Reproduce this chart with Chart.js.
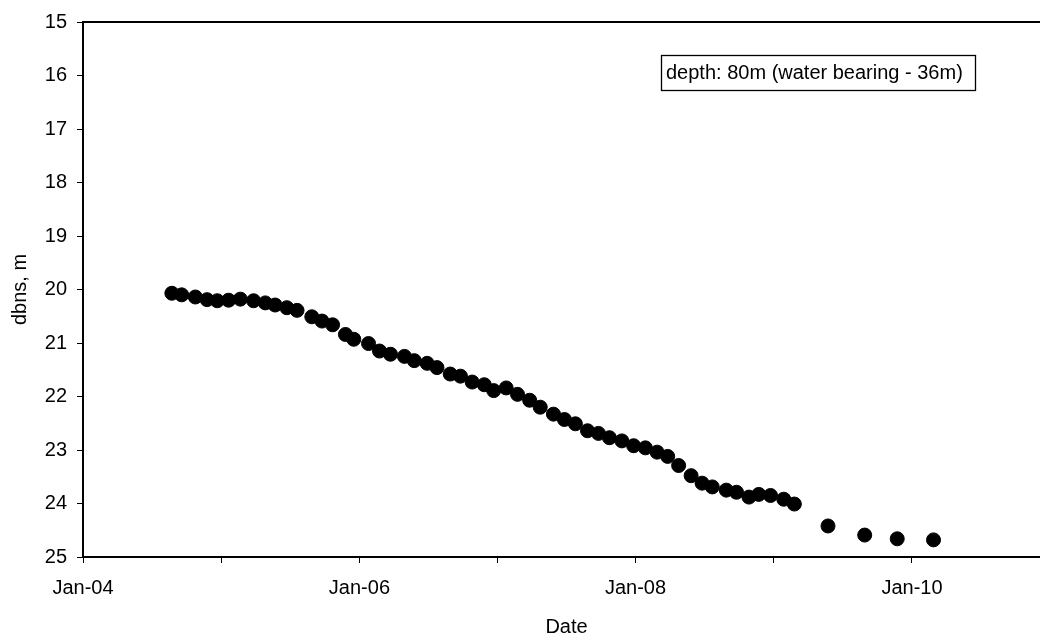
<!DOCTYPE html>
<html>
<head>
<meta charset="utf-8">
<script src="https://cdn.jsdelivr.net/npm/chart.js@4/dist/chart.umd.min.js"></script>
<style>
  html, body { margin: 0; padding: 0; background: #fff; overflow: hidden; width: 1040px; height: 641px; }
  #wrap { position: relative; width: 1040px; height: 641px; overflow: hidden; }
  #c { position: absolute; left: 0; top: 0; display: block; }
</style>
</head>
<body>
<div id="wrap"><canvas id="c" width="1058" height="641"></canvas></div>
<script>
// ---- data ----
const sampleDates = [
  '2004-08-23','2004-09-18','2004-10-24','2004-11-24','2004-12-21',
  '2005-01-20','2005-02-20','2005-03-27','2005-04-27','2005-05-23','2005-06-23','2005-07-20',
  '2005-08-28','2005-09-24','2005-10-22','2005-11-25','2005-12-17',
  '2006-01-25','2006-02-23','2006-03-24','2006-04-30','2006-05-26','2006-06-29','2006-07-25',
  '2006-08-29','2006-09-25','2006-10-26','2006-11-27','2006-12-22',
  '2007-01-24','2007-02-23','2007-03-27','2007-04-24','2007-05-29','2007-06-27','2007-07-26',
  '2007-08-27','2007-09-25','2007-10-24','2007-11-26','2007-12-27',
  '2008-01-27','2008-02-27','2008-03-26','2008-04-24','2008-05-27','2008-06-25','2008-07-22',
  '2008-08-28','2008-09-24','2008-10-27','2008-11-22','2008-12-23',
  '2009-01-27','2009-02-24','2009-05-24','2009-08-29','2009-11-23','2010-02-27'
];
const depthBelowSurface = [
  20.07, 20.10, 20.14, 20.19, 20.21,
  20.20, 20.18, 20.21, 20.25, 20.29, 20.34, 20.39,
  20.51, 20.59, 20.66, 20.84, 20.93,
  21.01, 21.15, 21.21, 21.25, 21.33, 21.38, 21.46,
  21.58, 21.62, 21.73, 21.78, 21.89,
  21.84, 21.96, 22.07, 22.20, 22.33, 22.43, 22.51,
  22.64, 22.69, 22.77, 22.83, 22.92,
  22.96, 23.04, 23.12, 23.29, 23.48, 23.62, 23.69,
  23.75, 23.79, 23.88, 23.83, 23.85,
  23.92, 24.01, 24.42, 24.59, 24.66, 24.68
];
const tickDates = ['2004-01-01','2005-01-01','2006-01-01','2007-01-01','2008-01-01','2009-01-01','2010-01-01','2011-01-01'];
const tickLabels = ['Jan-04','','Jan-06','','Jan-08','','Jan-10',''];
const yTicks = [15,16,17,18,19,20,21,22,23,24,25];
const annotationText = 'depth: 80m (water bearing - 36m)';
const xTitle = 'Date';
const yTitle = 'dbns, m';

// ---- helpers ----
const origin = Date.parse('2004-01-01T00:00:00Z');
const dayOf = s => Math.round((Date.parse(s + 'T00:00:00Z') - origin) / 86400000);
const tickDays = tickDates.map(dayOf);
const points = sampleDates.map((d, i) => ({ x: dayOf(d), y: depthBelowSurface[i] }));

const FONT = 'Liberation Sans, Arial, Helvetica, sans-serif';

const framePlugin = {
  id: 'frame',
  afterDraw(chart) {
    const { ctx, chartArea } = chart;
    ctx.save();
    ctx.strokeStyle = '#000';
    ctx.lineWidth = 2;
    ctx.beginPath();
    ctx.moveTo(chartArea.left - 1, chartArea.top);
    ctx.lineTo(chartArea.right + 1, chartArea.top);
    ctx.stroke();
    // annotation box
    ctx.font = '20px ' + FONT;
    ctx.textBaseline = 'middle';
    ctx.textAlign = 'left';
    const bx = 661, by = 55, tx = 666;
    const tw = ctx.measureText(annotationText).width;
    const bw = Math.max(314, tw + 12), bh = 35;
    ctx.fillStyle = '#fff';
    ctx.fillRect(bx, by, bw, bh);
    ctx.lineWidth = 1.3;
    ctx.strokeRect(bx + 0.5, by + 0.5, bw, bh);
    ctx.fillStyle = '#000';
    ctx.fillText(annotationText, tx, by + bh / 2 + 1);
    ctx.restore();
  }
};

new Chart(document.getElementById('c'), {
  type: 'scatter',
  data: {
    datasets: [{
      data: points,
      backgroundColor: '#000',
      borderColor: '#000',
      pointRadius: 7,
      pointBorderWidth: 1,
      pointHoverRadius: 7
    }]
  },
  options: {
    responsive: false,
    animation: false,
    devicePixelRatio: 1,
    layout: { padding: { top: 17, right: 0, bottom: 0, left: 0 } },
    plugins: { legend: { display: false }, tooltip: { enabled: false } },
    scales: {
      x: {
        type: 'linear',
        min: tickDays[0],
        max: tickDays[tickDays.length - 1],
        afterBuildTicks: s => { s.ticks = tickDays.map(v => ({ value: v })); },
        afterFit: s => { s.height = 84; s.paddingRight = 0; s.paddingLeft = 0; },
        ticks: {
          autoSkip: false, maxRotation: 0, padding: 13, color: '#000',
          font: { family: FONT, size: 20 },
          callback: (v) => { const i = tickDays.indexOf(v); return i >= 0 ? tickLabels[i] : ''; }
        },
        grid: { drawOnChartArea: false, tickLength: 6, color: '#000', tickWidth: 1 },
        border: { display: true, color: '#000', width: 2 },
        title: { display: true, text: xTitle, color: '#000', font: { family: FONT, size: 20 }, padding: { top: 0, bottom: 2 } }
      },
      y: {
        reverse: true,
        min: yTicks[0],
        max: yTicks[yTicks.length - 1],
        afterBuildTicks: s => { s.ticks = yTicks.map(v => ({ value: v })); },
        afterFit: s => { s.width = 83; },
        ticks: { padding: 10, color: '#000', font: { family: FONT, size: 20 } },
        grid: { drawOnChartArea: false, tickLength: 6, color: '#000', tickWidth: 1 },
        border: { display: true, color: '#000', width: 2 },
        title: { display: true, text: yTitle, color: '#000', font: { family: FONT, size: 20 }, padding: { top: 8, bottom: 0 } }
      }
    }
  },
  plugins: [framePlugin]
});
</script>
</body>
</html>
